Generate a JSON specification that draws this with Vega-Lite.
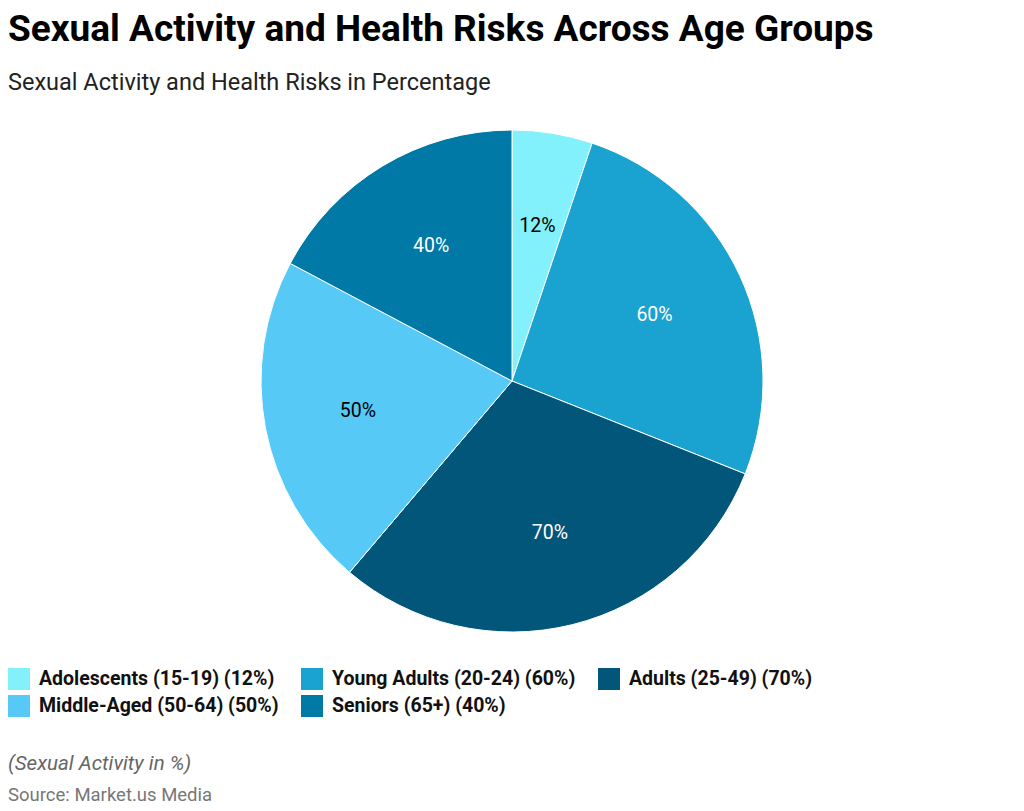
{
  "$schema": "https://vega.github.io/schema/vega-lite/v6.json",
  "background": "white",
  "padding": {"left": 8, "top": 10, "right": 8, "bottom": 4},
  "title": {
    "text": "Sexual Activity and Health Risks Across Age Groups",
    "subtitle": "Sexual Activity and Health Risks in Percentage",
    "anchor": "start",
    "font": "Roboto",
    "fontSize": 37,
    "fontWeight": "bold",
    "color": "#000000",
    "subtitleFont": "Roboto",
    "subtitleFontSize": 23.5,
    "subtitleColor": "#222222",
    "subtitlePadding": 22,
    "offset": 33
  },
  "datasets": {
    "groups": [
      {"order": 1, "group": "Adolescents (15-19) (12%)", "value": 12, "pct": "12%"},
      {"order": 2, "group": "Young Adults (20-24) (60%)", "value": 60, "pct": "60%"},
      {"order": 3, "group": "Adults (25-49) (70%)", "value": 70, "pct": "70%"},
      {"order": 4, "group": "Middle-Aged (50-64) (50%)", "value": 50, "pct": "50%"},
      {"order": 5, "group": "Seniors (65+) (40%)", "value": 40, "pct": "40%"}
    ]
  },
  "vconcat": [
    {
      "width": 1008,
      "height": 502,
      "data": {"name": "groups"},
      "encoding": {
        "theta": {"field": "value", "type": "quantitative", "stack": true},
        "order": {"field": "order", "type": "quantitative"}
      },
      "layer": [
        {
          "mark": {"type": "arc", "outerRadius": 251, "stroke": "#ffffff", "strokeWidth": 1},
          "encoding": {
            "color": {
              "field": "group",
              "type": "nominal",
              "sort": null,
              "scale": {
                "domain": ["Adolescents (15-19) (12%)", "Young Adults (20-24) (60%)", "Adults (25-49) (70%)", "Middle-Aged (50-64) (50%)", "Seniors (65+) (40%)"],
                "range": ["#83f1fc", "#1aa3d0", "#02567a", "#56c9f6", "#0079a6"]
              },
              "legend": {
                "title": null,
                "orient": "bottom",
                "direction": "horizontal",
                "columns": 3,
                "offset": 36,
                "symbolType": "square",
                "symbolSize": 484,
                "symbolStrokeWidth": 0,
                "labelFont": "Roboto",
                "labelFontSize": 19.5,
                "labelFontWeight": "bold",
                "labelColor": "#111111",
                "labelOffset": 9,
                "labelLimit": 400,
                "columnPadding": 22,
                "rowPadding": 5
              }
            }
          }
        },
        {
          "mark": {"type": "text", "radius": 157, "font": "Roboto", "fontSize": 19.5},
          "encoding": {
            "text": {"field": "pct", "type": "nominal"},
            "color": {
              "condition": {"test": "datum.value == 12 || datum.value == 50", "value": "#000000"},
              "value": "#ffffff"
            }
          }
        }
      ]
    },
    {
      "width": 1008,
      "height": 1,
      "data": {"values": []},
      "mark": {"type": "text"},
      "title": {
        "text": "(Sexual Activity in %)",
        "subtitle": "Source: Market.us Media",
        "anchor": "start",
        "font": "Roboto",
        "fontSize": 20.5,
        "fontStyle": "italic",
        "fontWeight": "normal",
        "color": "#666666",
        "subtitleFont": "Roboto",
        "subtitleFontSize": 18.5,
        "subtitleColor": "#777777",
        "subtitlePadding": 11
      }
    }
  ],
  "spacing": 37,
  "resolve": {"scale": {"color": "independent"}, "legend": {"color": "independent"}},
  "config": {"view": {"stroke": null}, "font": "Roboto"}
}
